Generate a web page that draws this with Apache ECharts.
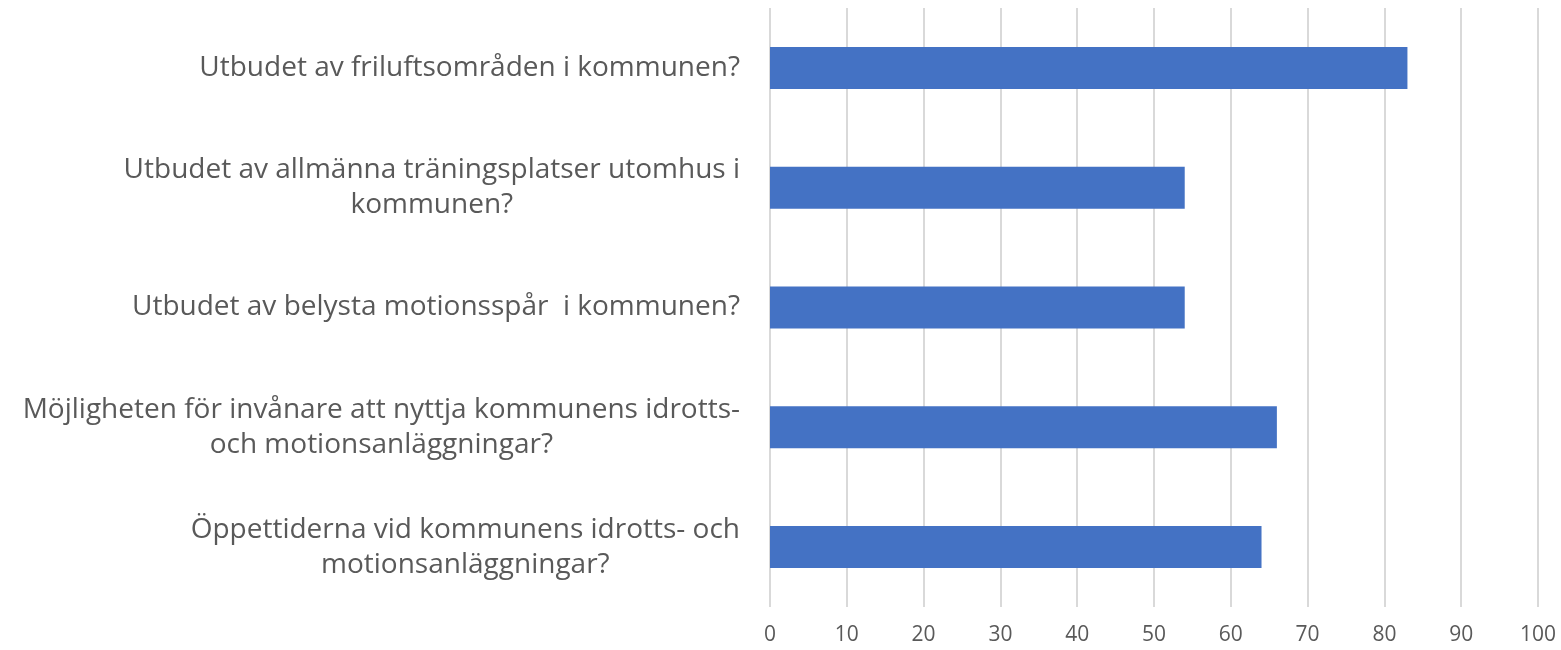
<!DOCTYPE html>
<html>
<head>
<meta charset="utf-8">
<script src="https://cdn.jsdelivr.net/npm/echarts@6/dist/echarts.min.js"></script>
<style>
html, body { margin: 0; padding: 0; background: #fff; }
#chart { width: 1561px; height: 650px; }
</style>
</head>
<body>
<div id="chart"></div>
<script>
// kategorier uppifrån och ner
var categories = [
    "Utbudet av friluftsområden i kommunen?",
    "Utbudet av allmänna träningsplatser utomhus i\nkommunen?",
    "Utbudet av belysta motionsspår  i kommunen?",
    "Möjligheten för invånare att nyttja kommunens idrotts-\noch motionsanläggningar?",
    "Öppettiderna vid kommunens idrotts- och\nmotionsanläggningar?"
];
var values = [83, 54, 54, 66, 64];
var xTicks = [0, 10, 20, 30, 40, 50, 60, 70, 80, 90, 100];

var font = "'Open Sans', sans-serif";
var chart = echarts.init(document.getElementById("chart"));
chart.setOption({
    animation: false,
    grid: {
        left: 770,
        right: 23,
        top: 8,
        bottom: 43,
        outerBoundsMode: "none"
    },
    xAxis: {
        type: "value",
        min: xTicks[0],
        max: xTicks[xTicks.length - 1],
        interval: xTicks[1] - xTicks[0],
        axisLine: { show: false },
        axisTick: { show: false },
        axisLabel: {
            color: "#595959",
            fontSize: 21,
            fontFamily: font,
            margin: 18
        },
        splitLine: { lineStyle: { color: "#d9d9d9", width: 2 } }
    },
    yAxis: {
        type: "category",
        inverse: true,
        data: categories,
        axisLine: { show: false },
        axisTick: { show: false },
        axisLabel: {
            margin: 30,
            formatter: function (v) {
                return v.split("\n").map(function (s) { return "{c|" + s + "}"; }).join("\n");
            },
            rich: {
                c: {
                    align: "center",
                    color: "#595959",
                    fontSize: 28,
                    lineHeight: 35,
                    fontFamily: font
                }
            }
        }
    },
    series: [{
        type: "bar",
        data: values,
        barWidth: 42,
        itemStyle: { color: "#4472C4" }
    }]
});
</script>
</body>
</html>
